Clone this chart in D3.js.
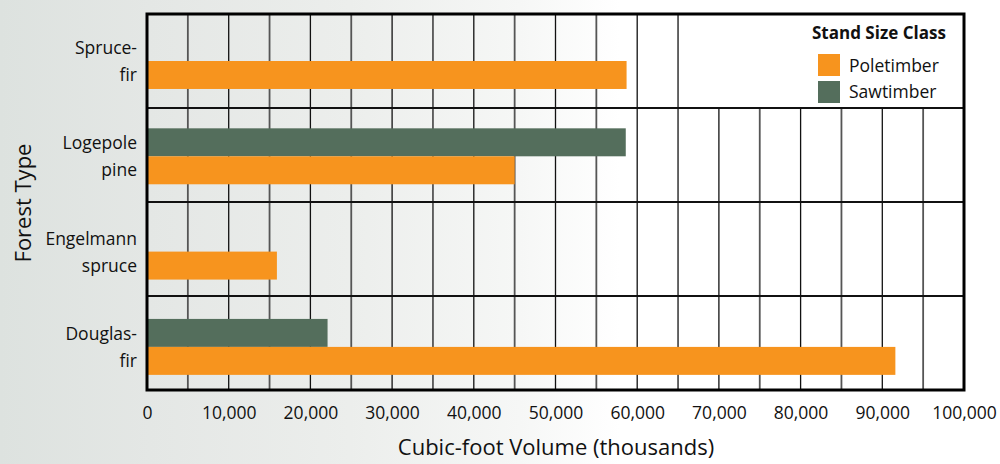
<!DOCTYPE html>
<html>
<head>
<meta charset="utf-8">
<script src="https://cdn.jsdelivr.net/npm/d3@7"></script>
<style>
  html, body { margin: 0; padding: 0; background: #fff; }
  svg { display: block; font-family: "Open Sans", "Noto Sans", sans-serif; }
</style>
</head>
<body>
<svg id="chart" width="1000" height="464"></svg>
<script>
const categories = ["Spruce-fir", "Logepole pine", "Engelmann spruce", "Douglas-fir"];
const categoryLines = [["Spruce-", "fir"], ["Logepole", "pine"], ["Engelmann", "spruce"], ["Douglas-", "fir"]];
const seriesNames = ["Sawtimber", "Poletimber"];
const sawtimber = [0, 58600, 0, 22100];
const poletimber = [58700, 45000, 15900, 91600];
const xTicks = [0, 10000, 20000, 30000, 40000, 50000, 60000, 70000, 80000, 90000, 100000];
const gridTicks = d3.range(0, 100001, 5000);
const legendTitle = "Stand Size Class";
const legendItems = ["Poletimber", "Sawtimber"];
const xTitle = "Cubic-foot Volume (thousands)";
const yTitle = "Forest Type";

const colors = { Poletimber: "#F7941E", Sawtimber: "#546E5C" };

const W = 1000, H = 464;
const m = { top: 14, right: 36, bottom: 74, left: 147 };
const svg = d3.select("#chart");

// background (faded photo look)
const defs = svg.append("defs");
const g1 = defs.append("linearGradient").attr("id", "bg").attr("x1", 0).attr("x2", 1).attr("y1", 0).attr("y2", 0);
g1.append("stop").attr("offset", "0%").attr("stop-color", "#dde2df");
g1.append("stop").attr("offset", "15%").attr("stop-color", "#e4e7e5");
g1.append("stop").attr("offset", "35%").attr("stop-color", "#eceeec");
g1.append("stop").attr("offset", "52%").attr("stop-color", "#f6f7f6");
g1.append("stop").attr("offset", "62%").attr("stop-color", "#ffffff");
g1.append("stop").attr("offset", "100%").attr("stop-color", "#ffffff");
svg.append("rect").attr("width", W).attr("height", H).attr("fill", "url(#bg)");

const x = d3.scaleLinear().domain([0, 100000]).range([m.left, W - m.right]);
const y = d3.scaleBand().domain(categories).range([m.top, H - m.bottom]).padding(0);
const ySub = d3.scaleBand().domain(seriesNames).range([0, y.bandwidth()]).paddingInner(0).paddingOuter(0.68);

// gridlines
svg.append("g").selectAll("line").data(gridTicks).join("line")
  .attr("x1", d => x(d)).attr("x2", d => x(d))
  .attr("y1", m.top).attr("y2", H - m.bottom)
  .attr("stroke", d => d % 10000 === 0 ? "#111" : "#555")
  .attr("stroke-width", d => d % 10000 === 0 ? 1.3 : 1.8);

// band separators
svg.append("g").selectAll("line").data(categories.slice(1)).join("line")
  .attr("x1", m.left).attr("x2", W - m.right)
  .attr("y1", d => y(d)).attr("y2", d => y(d))
  .attr("stroke", "#111").attr("stroke-width", 2);

// legend box (white)
svg.append("rect")
  .attr("x", x(65000) + 1).attr("y", m.top)
  .attr("width", x(100000) - x(65000) - 1).attr("height", y(categories[1]) - m.top - 1)
  .attr("fill", "#fff");

// bars
const data = [];
categories.forEach((c, i) => {
  data.push({ cat: c, s: "Sawtimber", v: sawtimber[i] });
  data.push({ cat: c, s: "Poletimber", v: poletimber[i] });
});
svg.append("g").selectAll("rect").data(data.filter(d => d.v > 0)).join("rect")
  .attr("x", x(0))
  .attr("y", d => y(d.cat) + ySub(d.s) + categories.indexOf(d.cat) * 1.3)
  .attr("width", d => x(d.v) - x(0))
  .attr("height", ySub.bandwidth())
  .attr("fill", d => colors[d.s]);

// border
svg.append("rect")
  .attr("x", m.left).attr("y", m.top)
  .attr("width", W - m.right - m.left).attr("height", H - m.bottom - m.top)
  .attr("fill", "none").attr("stroke", "#000").attr("stroke-width", 3);

// x axis
const xAxis = d3.axisBottom(x).tickValues(xTicks).tickSize(0).tickPadding(0)
  .tickFormat(d => d3.format(",")(d));
const ax = svg.append("g").attr("transform", `translate(0,${H - m.bottom})`).call(xAxis);
ax.select(".domain").remove();
ax.selectAll("text").attr("font-size", 17.5).attr("fill", "#111")
  .attr("font-family", "'Open Sans', sans-serif").attr("dy", 0).attr("y", 29);

// category labels
const lab = svg.append("g");
categories.forEach((c, i) => {
  const cy = y(c) + (ySub("Sawtimber") + ySub("Poletimber") + ySub.bandwidth()) / 2 + i * 1.3;
  const t = lab.append("text").attr("text-anchor", "end").attr("font-size", 17.5).attr("fill", "#111");
  categoryLines[i].forEach((ln, j) => {
    t.append("tspan").attr("x", m.left - 10).attr("y", cy - 7 + j * 27).text(ln);
  });
});

// axis titles
svg.append("text").attr("x", 556).attr("y", 455).attr("text-anchor", "middle")
  .attr("font-size", 22).attr("fill", "#111").text(xTitle);
svg.append("text").attr("transform", "translate(31,203) rotate(-90)").attr("text-anchor", "middle")
  .attr("font-size", 22).attr("fill", "#111").text(yTitle);

// legend
const lg = svg.append("g");
lg.append("text").attr("x", 812).attr("y", 39).attr("font-size", 17).attr("font-weight", "bold")
  .attr("fill", "#111").text(legendTitle);
legendItems.forEach((name, i) => {
  lg.append("rect").attr("x", 818).attr("y", 54 + i * 27).attr("width", 22).attr("height", 22)
    .attr("fill", colors[name]);
  lg.append("text").attr("x", 849).attr("y", 72 + i * 26).attr("font-size", 17.5).attr("fill", "#111")
    .text(name);
});
</script>
</body>
</html>
